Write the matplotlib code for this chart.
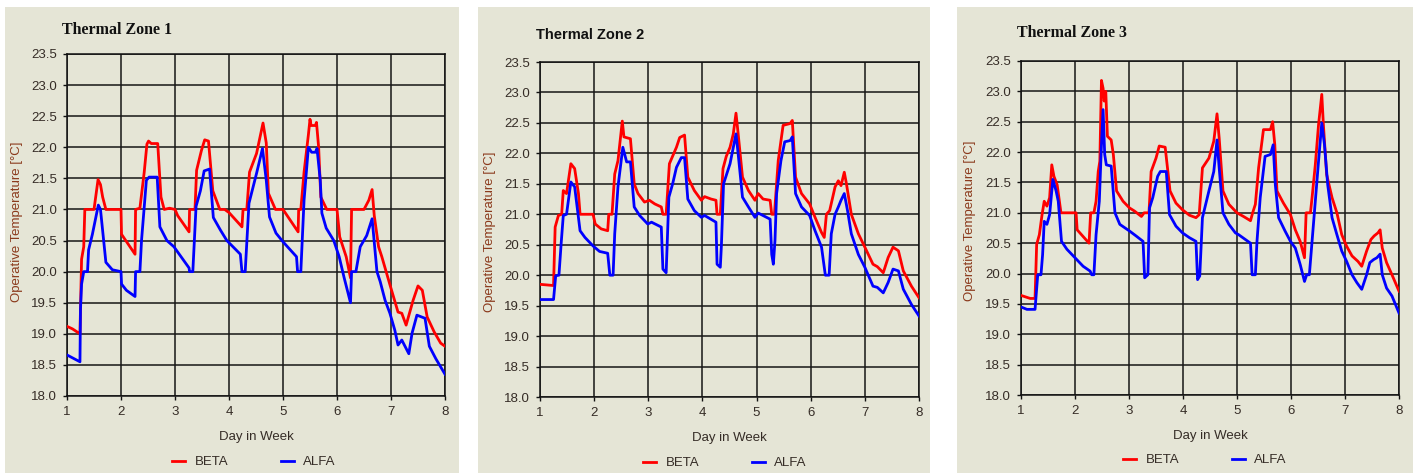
import matplotlib
matplotlib.use("Agg")
import matplotlib.pyplot as plt
from matplotlib.patches import Rectangle
from matplotlib.lines import Line2D

# hourly-ish operative temperature traces, (day, temperature in degC)
z1_beta = [(1.0, 19.12), (1.1, 19.08), (1.24, 19.0), (1.27, 20.2), (1.31, 20.4), (1.33, 21.0), (1.5, 21.0),
           (1.575, 21.48), (1.62, 21.4), (1.66, 21.2), (1.72, 21.0), (2.0, 21.0), (2.01, 20.6), (2.26, 20.28),
           (2.27, 21.0), (2.35, 21.02), (2.43, 21.6), (2.48, 22.05), (2.51, 22.1), (2.56, 22.06), (2.68, 22.06),
           (2.74, 21.2), (2.8, 21.0), (2.9, 21.02), (3.0, 21.0), (3.05, 20.9), (3.26, 20.64), (3.27, 21.0),
           (3.37, 21.0), (3.4, 21.63), (3.49, 21.95), (3.55, 22.12), (3.62, 22.1), (3.7, 21.3), (3.83, 21.0),
           (3.92, 21.0), (4.0, 20.95), (4.24, 20.72), (4.26, 21.0), (4.33, 21.0), (4.38, 21.6), (4.51, 21.9),
           (4.63, 22.39), (4.69, 22.07), (4.73, 21.26), (4.86, 21.0), (5.0, 21.0), (5.28, 20.64), (5.29, 21.0),
           (5.33, 21.0), (5.39, 21.6), (5.47, 22.2), (5.5, 22.45), (5.52, 22.35), (5.6, 22.35), (5.62, 22.4),
           (5.66, 22.0), (5.7, 21.2), (5.81, 21.0), (6.0, 21.0), (6.05, 20.56), (6.17, 20.24), (6.25, 19.9),
           (6.27, 21.0), (6.5, 21.0), (6.59, 21.15), (6.65, 21.32), (6.69, 20.9), (6.77, 20.4), (6.83, 20.24),
           (6.98, 19.79), (7.13, 19.35), (7.2, 19.33), (7.28, 19.14), (7.41, 19.54), (7.5, 19.77), (7.58, 19.7),
           (7.67, 19.27), (7.8, 19.03), (7.92, 18.85), (8.0, 18.8)]
z1_alfa = [(1.0, 18.66), (1.24, 18.55), (1.25, 19.4), (1.27, 19.8), (1.31, 20.0), (1.38, 20.0), (1.4, 20.35),
           (1.47, 20.6), (1.58, 21.07), (1.62, 21.0), (1.72, 20.15), (1.84, 20.03), (2.0, 20.0), (2.01, 19.8),
           (2.1, 19.7), (2.26, 19.6), (2.27, 20.0), (2.35, 20.0), (2.38, 20.5), (2.47, 21.47), (2.52, 21.52),
           (2.67, 21.52), (2.72, 20.72), (2.85, 20.5), (2.98, 20.4), (3.26, 20.06), (3.27, 20.0), (3.33, 20.0),
           (3.39, 21.05), (3.47, 21.3), (3.54, 21.62), (3.64, 21.65), (3.71, 20.87), (3.84, 20.67), (3.96, 20.5),
           (4.21, 20.28), (4.24, 20.0), (4.3, 20.0), (4.37, 21.1), (4.51, 21.58), (4.62, 21.98), (4.69, 21.47),
           (4.75, 20.88), (4.87, 20.62), (5.0, 20.48), (5.25, 20.24), (5.27, 20.0), (5.33, 20.0), (5.39, 21.15),
           (5.47, 22.0), (5.53, 21.92), (5.6, 21.92), (5.63, 21.98), (5.69, 21.47), (5.72, 20.94), (5.8, 20.7),
           (5.94, 20.5), (6.04, 20.24), (6.13, 19.91), (6.25, 19.5), (6.27, 20.0), (6.35, 20.0), (6.43, 20.4),
           (6.55, 20.58), (6.65, 20.85), (6.74, 20.0), (6.8, 19.84), (6.89, 19.54), (6.98, 19.33), (7.07, 19.06),
           (7.13, 18.82), (7.2, 18.9), (7.33, 18.68), (7.39, 19.01), (7.48, 19.3), (7.57, 19.27), (7.63, 19.25),
           (7.71, 18.8), (7.83, 18.6), (8.0, 18.35)]

z2_beta = [(1.0, 19.85), (1.25, 19.83), (1.28, 20.79), (1.34, 20.98), (1.4, 21.0), (1.43, 21.39), (1.49, 21.34),
           (1.57, 21.83), (1.64, 21.75), (1.71, 21.34), (1.74, 21.0), (1.98, 21.0), (2.02, 20.84), (2.13, 20.76),
           (2.25, 20.73), (2.27, 21.0), (2.33, 21.0), (2.38, 21.66), (2.44, 21.88), (2.52, 22.53), (2.55, 22.27),
           (2.67, 22.24), (2.74, 21.5), (2.81, 21.34), (2.93, 21.2), (3.02, 21.23), (3.12, 21.17), (3.24, 21.12),
           (3.27, 21.0), (3.33, 21.0), (3.39, 21.83), (3.52, 22.1), (3.58, 22.26), (3.67, 22.3), (3.73, 21.61),
           (3.85, 21.39), (3.98, 21.23), (4.04, 21.29), (4.16, 21.25), (4.25, 21.23), (4.27, 21.0), (4.33, 21.0),
           (4.38, 21.75), (4.44, 21.95), (4.51, 22.1), (4.57, 22.32), (4.62, 22.66), (4.66, 22.32), (4.74, 21.61),
           (4.85, 21.39), (4.97, 21.23), (5.03, 21.34), (5.12, 21.25), (5.25, 21.23), (5.28, 21.0), (5.33, 21.0),
           (5.4, 21.88), (5.49, 22.46), (5.62, 22.49), (5.66, 22.54), (5.72, 21.61), (5.83, 21.34), (5.98, 21.17),
           (6.08, 20.95), (6.2, 20.7), (6.25, 20.62), (6.29, 21.0), (6.35, 21.06), (6.45, 21.45), (6.51, 21.55),
           (6.56, 21.47), (6.62, 21.69), (6.66, 21.5), (6.75, 21.0), (6.88, 20.68), (7.0, 20.46), (7.15, 20.18),
           (7.23, 20.14), (7.34, 20.04), (7.43, 20.29), (7.52, 20.46), (7.62, 20.4), (7.71, 20.07), (7.86, 19.82),
           (8.0, 19.63)]
z2_alfa = [(1.0, 19.6), (1.25, 19.6), (1.29, 19.99), (1.35, 20.0), (1.39, 20.51), (1.43, 20.98), (1.49, 21.0),
           (1.57, 21.53), (1.64, 21.45), (1.74, 20.73), (1.83, 20.62), (1.98, 20.48), (2.1, 20.39), (2.25, 20.36),
           (2.29, 20.0), (2.35, 20.0), (2.38, 20.68), (2.44, 21.45), (2.53, 22.1), (2.6, 21.86), (2.67, 21.86),
           (2.74, 21.12), (2.84, 20.98), (2.99, 20.84), (3.06, 20.87), (3.24, 20.79), (3.27, 20.1), (3.33, 20.04),
           (3.38, 21.28), (3.45, 21.5), (3.52, 21.77), (3.61, 21.93), (3.67, 21.93), (3.73, 21.25), (3.85, 21.06),
           (3.98, 20.95), (4.04, 20.98), (4.25, 20.87), (4.27, 20.18), (4.33, 20.13), (4.35, 20.48), (4.39, 21.5),
           (4.51, 21.83), (4.62, 22.32), (4.66, 21.99), (4.74, 21.28), (4.85, 21.12), (4.97, 20.95), (5.03, 21.02),
           (5.25, 20.92), (5.28, 20.34), (5.31, 20.18), (5.34, 20.57), (5.37, 21.34), (5.45, 21.88), (5.52, 22.19),
           (5.62, 22.21), (5.66, 22.27), (5.72, 21.34), (5.83, 21.12), (5.98, 20.98), (6.08, 20.73), (6.2, 20.46),
           (6.27, 20.0), (6.34, 20.0), (6.38, 20.68), (6.45, 21.0), (6.51, 21.12), (6.56, 21.23), (6.62, 21.34),
           (6.68, 21.06), (6.75, 20.68), (6.88, 20.34), (7.0, 20.13), (7.15, 19.82), (7.23, 19.8), (7.34, 19.71),
           (7.43, 19.88), (7.52, 20.1), (7.62, 20.07), (7.71, 19.77), (7.86, 19.52), (8.0, 19.33)]

z3_beta = [(1.0, 19.64), (1.17, 19.59), (1.26, 19.59), (1.29, 20.48), (1.34, 20.64), (1.39, 20.97), (1.43, 21.19),
           (1.48, 21.11), (1.53, 21.25), (1.57, 21.79), (1.61, 21.6), (1.67, 21.46), (1.74, 21.0), (2.02, 21.0),
           (2.04, 20.72), (2.12, 20.64), (2.26, 20.5), (2.29, 21.0), (2.35, 21.0), (2.39, 21.19), (2.43, 21.68),
           (2.46, 21.85), (2.49, 23.18), (2.52, 23.05), (2.54, 22.84), (2.57, 23.0), (2.6, 22.26), (2.67, 22.2),
           (2.71, 21.96), (2.77, 21.36), (2.89, 21.19), (3.01, 21.08), (3.1, 21.03), (3.23, 20.94), (3.28, 21.0),
           (3.37, 21.0), (3.41, 21.68), (3.5, 21.9), (3.56, 22.1), (3.67, 22.08), (3.76, 21.36), (3.87, 21.16),
           (3.99, 21.05), (4.12, 20.96), (4.24, 20.92), (4.3, 20.97), (4.36, 21.74), (4.48, 21.9), (4.57, 22.18),
           (4.63, 22.63), (4.67, 22.23), (4.74, 21.36), (4.85, 21.14), (5.0, 21.0), (5.12, 20.94), (5.25, 20.87),
           (5.29, 21.0), (5.34, 21.14), (5.4, 21.74), (5.49, 22.37), (5.62, 22.37), (5.66, 22.5), (5.7, 22.12),
           (5.74, 21.36), (5.86, 21.16), (5.99, 20.97), (6.08, 20.72), (6.17, 20.53), (6.25, 20.26), (6.28, 21.0),
           (6.36, 21.0), (6.39, 21.25), (6.45, 21.79), (6.51, 22.45), (6.57, 22.95), (6.6, 22.45), (6.66, 21.63),
           (6.76, 21.25), (6.85, 21.0), (6.94, 20.64), (7.03, 20.45), (7.13, 20.29), (7.24, 20.2), (7.31, 20.12),
           (7.4, 20.37), (7.48, 20.56), (7.54, 20.62), (7.61, 20.67), (7.65, 20.72), (7.69, 20.42), (7.77, 20.18),
           (7.87, 19.98), (8.0, 19.71)]
z3_alfa = [(1.0, 19.45), (1.11, 19.41), (1.26, 19.41), (1.31, 19.98), (1.37, 19.98), (1.4, 20.31), (1.43, 20.86),
           (1.48, 20.81), (1.53, 20.97), (1.59, 21.55), (1.65, 21.36), (1.69, 21.19), (1.75, 20.53), (1.85, 20.4),
           (2.0, 20.26), (2.15, 20.12), (2.28, 20.04), (2.31, 19.98), (2.35, 19.98), (2.39, 20.64), (2.45, 21.19),
           (2.49, 22.12), (2.52, 22.7), (2.55, 21.96), (2.58, 21.79), (2.67, 21.77), (2.74, 21.0), (2.83, 20.81),
           (3.01, 20.7), (3.13, 20.62), (3.26, 20.53), (3.29, 19.93), (3.35, 19.98), (3.38, 21.08), (3.44, 21.25),
           (3.53, 21.6), (3.58, 21.68), (3.69, 21.68), (3.75, 20.97), (3.87, 20.78), (3.99, 20.67), (4.12, 20.59),
           (4.24, 20.53), (4.27, 19.9), (4.31, 19.96), (4.36, 20.92), (4.48, 21.36), (4.57, 21.68), (4.63, 22.2),
           (4.67, 21.74), (4.74, 21.0), (4.85, 20.81), (4.97, 20.67), (5.03, 20.64), (5.25, 20.5), (5.28, 19.98),
           (5.34, 19.98), (5.37, 20.53), (5.43, 21.25), (5.52, 21.93), (5.62, 21.96), (5.67, 22.12), (5.71, 21.46),
           (5.77, 20.92), (5.89, 20.7), (5.99, 20.53), (6.08, 20.42), (6.17, 20.15), (6.25, 19.87), (6.29, 19.98),
           (6.34, 19.98), (6.39, 20.53), (6.45, 21.19), (6.51, 21.85), (6.57, 22.48), (6.62, 22.12), (6.68, 21.46),
           (6.76, 20.92), (6.85, 20.64), (6.94, 20.37), (7.03, 20.2), (7.13, 19.98), (7.22, 19.85), (7.31, 19.74),
           (7.4, 19.98), (7.46, 20.18), (7.53, 20.23), (7.59, 20.26), (7.65, 20.32), (7.69, 19.98), (7.77, 19.76),
           (7.87, 19.63), (8.0, 19.35)]

titles = ["Thermal Zone 1", "Thermal Zone 2", "Thermal Zone 3"]
series_names = ["BETA", "ALFA"]
day_ticks = [1, 2, 3, 4, 5, 6, 7, 8]
temp_ticks = [18.0, 18.5, 19.0, 19.5, 20.0, 20.5, 21.0, 21.5, 22.0, 22.5, 23.0, 23.5]

W, H = 1413, 473
BEIGE = "#e5e5d6"
INK = "#352c26"
RED = "#ff0000"
BLUE = "#0000ff"
LW = 2.0

# pixel layout of each panel: background box, axes box, title, y label, legend
panels = [
    dict(bg=(5, 7, 459, 473), ax=(67, 54, 445, 396), title=(62, 30), title_font=("Liberation Serif", 11.5),
         ylab=(17, 222), xlab=(256, 437), leg=(254, 462)),
    dict(bg=(478, 7, 930, 473), ax=(540, 62, 919, 397), title=(536, 35), title_font=("Liberation Sans", 10.5),
         ylab=(490, 232), xlab=(729, 438), leg=(725, 463)),
    dict(bg=(957, 7, 1413, 473), ax=(1021, 61, 1399, 395), title=(1017, 33), title_font=("Liberation Serif", 11.5),
         ylab=(970, 221), xlab=(1210, 436), leg=(1205, 460)),
]
data = [(z1_beta, z1_alfa), (z2_beta, z2_alfa), (z3_beta, z3_alfa)]

plt.rcParams["font.family"] = ["Liberation Sans", "DejaVu Sans"]

fig = plt.figure(figsize=(W / 100, H / 100), dpi=100, facecolor="white")


def fx(x):
    return x / W


def fy(y):
    return 1 - y / H


for i, p in enumerate(panels):
    l, t, r, b = p["bg"]
    fig.add_artist(Rectangle((fx(l), fy(b)), fx(r - l), (b - t) / H, transform=fig.transFigure,
                             facecolor=BEIGE, edgecolor="none", zorder=-1))

    l, t, r, b = p["ax"]
    ax = fig.add_axes([fx(l), fy(b), fx(r - l), (b - t) / H])
    ax.set_facecolor(BEIGE)

    beta, alfa = data[i]
    ax.plot([d for d, _ in beta], [v for _, v in beta], color=RED, lw=LW, label=series_names[0], zorder=3)
    ax.plot([d for d, _ in alfa], [v for _, v in alfa], color=BLUE, lw=LW, label=series_names[1], zorder=3)

    ax.set_xlim(1, 8)
    ax.set_ylim(18, 23.5)
    ax.set_xticks(day_ticks)
    ax.set_xticklabels([str(d) for d in day_ticks])
    ax.set_yticks(temp_ticks)
    ax.set_yticklabels([f"{v:.1f}" for v in temp_ticks])
    ax.grid(True, color="#161616", lw=1.1, zorder=1)
    ax.set_axisbelow(True)
    for s in ax.spines.values():
        s.set_color("#111111")
        s.set_linewidth(1.1)
    ax.tick_params(direction="out", length=3, width=1, color="#111111", pad=4,
                   labelsize=9.5, labelcolor=INK)

    family, size = p["title_font"]
    fig.text(fx(p["title"][0]), fy(p["title"][1]), titles[i], family=family, fontsize=size,
             fontweight="bold", color="#111111", ha="left", va="center")
    fig.text(fx(p["ylab"][0]), fy(p["ylab"][1]), "Operative Temperature [°C]", rotation=90,
             fontsize=9.5, color="#8b3a1c", ha="center", va="center")
    fig.text(fx(p["xlab"][0]), fy(p["xlab"][1]), "Day in Week", fontsize=9.5, color=INK,
             ha="center", va="center")

    handles = [Line2D([], [], color=RED, lw=LW), Line2D([], [], color=BLUE, lw=LW)]
    leg = ax.legend(handles, series_names, loc="center", ncol=2, frameon=False, fontsize=9.5,
                    handlelength=1.0, handletextpad=0.7, columnspacing=4.0,
                    bbox_to_anchor=(fx(p["leg"][0]), fy(p["leg"][1])), bbox_transform=fig.transFigure)
    for txt in leg.get_texts():
        txt.set_color(INK)

fig.savefig("out.png", dpi=100, facecolor="white")
